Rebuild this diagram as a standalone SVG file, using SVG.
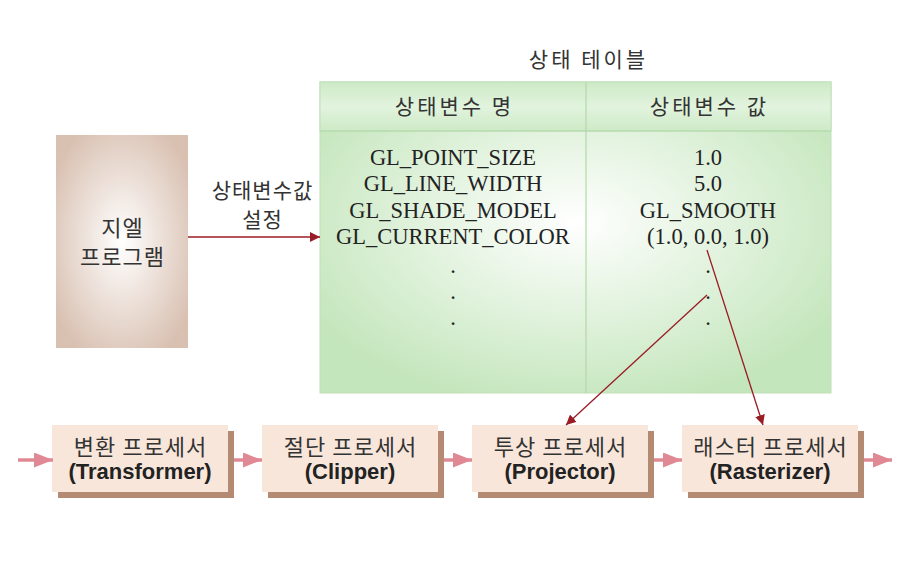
<svg xmlns="http://www.w3.org/2000/svg" width="910" height="572" viewBox="0 0 910 572">
<style>
.ko{font-family:"Noto Sans CJK KR","Noto Sans",sans-serif;fill:#333;text-anchor:middle}
.se{font-family:"Liberation Serif",serif;fill:#222;text-anchor:middle;font-size:22.5px}
.en{font-family:"Liberation Sans",Arial,sans-serif;font-weight:bold;fill:#222;text-anchor:middle;font-size:22px}
.bk{font-size:22px;letter-spacing:1px}
.hd{font-size:21px;letter-spacing:3px}
.box{fill:#f8e6da}
.shadow{fill:#b48a72}
.pink{stroke:#e08894;stroke-width:3.5;fill:none}
.red{stroke:#9a1c24;stroke-width:1.3;fill:none}
</style>
<defs>
<radialGradient id="tan" cx="0.5" cy="0.5" r="0.6">
<stop offset="0" stop-color="#ffffff"/>
<stop offset="1" stop-color="#d9c1b2"/>
</radialGradient>
<radialGradient id="grn" cx="0.5" cy="0.45" r="0.6">
<stop offset="0" stop-color="#ffffff"/>
<stop offset="1" stop-color="#c4e6bc"/>
</radialGradient>
<linearGradient id="hdr" x1="0" y1="0" x2="0" y2="1">
<stop offset="0" stop-color="#cdeac6"/>
<stop offset="0.5" stop-color="#e2f3de"/>
<stop offset="1" stop-color="#cdeac6"/>
</linearGradient>
<marker id="ar" viewBox="0 0 10 10" refX="10" refY="5" markerWidth="10" markerHeight="10" markerUnits="userSpaceOnUse" orient="auto">
<path d="M0,0 L10,5 L0,10 Z" fill="#9a1c24"/>
</marker>
<marker id="pk" viewBox="0 0 19 15" refX="19" refY="7.5" markerWidth="19" markerHeight="15" markerUnits="userSpaceOnUse" orient="auto">
<path d="M0,0 L19,7.5 L0,15 Z" fill="#e08894"/>
</marker>
</defs>
<rect width="910" height="572" fill="#ffffff"/>

<g id="program">
<rect x="56" y="135" width="132" height="213" fill="url(#tan)"/>
<text class="ko bk" x="122.5" y="236">지엘</text>
<text class="ko bk" x="122.5" y="265">프로그램</text>
</g>

<g id="state-table">
<text class="ko hd" x="588.5" y="67">상태 테이블</text>
<rect x="320" y="82" width="511" height="311" fill="url(#grn)" stroke="#bfe0b8" stroke-width="1"/>
<rect x="320" y="82" width="511" height="49" fill="url(#hdr)" stroke="#bfe0b8" stroke-width="1"/>
<line x1="586" y1="82" x2="586" y2="393" stroke="#b2d8aa" stroke-width="1.2"/>
<line x1="320" y1="131" x2="831" y2="131" stroke="#b2d8aa" stroke-width="1.2"/>
<text class="ko hd" x="454.5" y="114">상태변수 명</text>
<text class="ko hd" x="709.5" y="114">상태변수 값</text>
<text class="se" x="453" y="165">GL_POINT_SIZE</text>
<text class="se" x="453" y="191">GL_LINE_WIDTH</text>
<text class="se" x="453" y="218">GL_SHADE_MODEL</text>
<text class="se" x="453" y="244">GL_CURRENT_COLOR</text>
<text class="se" x="453" y="273">.</text>
<text class="se" x="453" y="299">.</text>
<text class="se" x="453" y="325">.</text>
<text class="se" x="708" y="165">1.0</text>
<text class="se" x="708" y="191">5.0</text>
<text class="se" x="708" y="218">GL_SMOOTH</text>
<text class="se" x="708" y="244">(1.0, 0.0, 1.0)</text>
<text class="se" x="708" y="273">.</text>
<text class="se" x="708" y="299">.</text>
<text class="se" x="708" y="325">.</text>
</g>

<g id="transformer">
<rect class="shadow" x="58" y="431" width="176" height="67"/>
<rect class="box" x="52" y="425" width="176" height="67"/>
<text class="ko bk" x="140.5" y="455">변환 프로세서</text>
<text class="en" x="140" y="479">(Transformer)</text>
</g>
<g id="clipper">
<rect class="shadow" x="268" y="431" width="176" height="67"/>
<rect class="box" x="262" y="425" width="176" height="67"/>
<text class="ko bk" x="350.5" y="455">절단 프로세서</text>
<text class="en" x="350" y="479">(Clipper)</text>
</g>
<g id="projector">
<rect class="shadow" x="478" y="431" width="176" height="67"/>
<rect class="box" x="472" y="425" width="176" height="67"/>
<text class="ko bk" x="560.5" y="455">투상 프로세서</text>
<text class="en" x="560" y="479">(Projector)</text>
</g>
<g id="rasterizer">
<rect class="shadow" x="688" y="431" width="176" height="67"/>
<rect class="box" x="682" y="425" width="176" height="67"/>
<text class="ko bk" x="770.5" y="455">래스터 프로세서</text>
<text class="en" x="770" y="479">(Rasterizer)</text>
</g>

<g id="connectors">
<line class="red" x1="188" y1="237" x2="320" y2="237" marker-end="url(#ar)"/>
<text class="ko" x="262.5" y="198" font-size="21" letter-spacing="1">상태변수값</text>
<text class="ko" x="262.5" y="227" font-size="21" letter-spacing="1">설정</text>
<line class="red" x1="707" y1="250" x2="763" y2="425" marker-end="url(#ar)"/>
<line class="red" x1="707" y1="295" x2="566" y2="425" marker-end="url(#ar)"/>
<line class="pink" x1="18" y1="460" x2="53" y2="460" marker-end="url(#pk)"/>
<line class="pink" x1="234" y1="460" x2="262" y2="460" marker-end="url(#pk)"/>
<line class="pink" x1="444" y1="460" x2="472" y2="460" marker-end="url(#pk)"/>
<line class="pink" x1="654" y1="460" x2="682" y2="460" marker-end="url(#pk)"/>
<line class="pink" x1="864" y1="460" x2="892" y2="460" marker-end="url(#pk)"/>
</g>
</svg>
